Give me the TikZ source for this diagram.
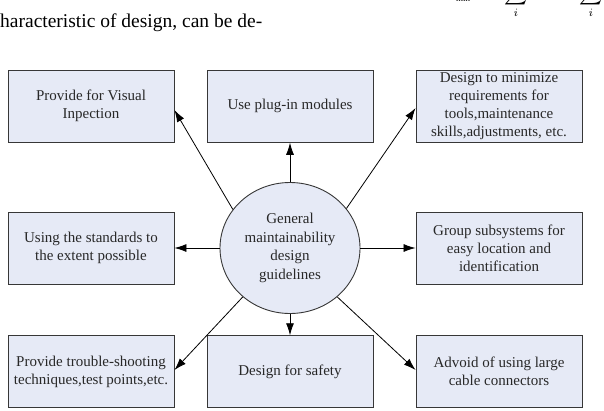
\documentclass[tikz,border=0pt]{standalone}
\usepackage{fontspec}
\setmainfont{Liberation Serif}
\usetikzlibrary{arrows.meta,shapes.geometric}
\definecolor{boxfill}{RGB}{230,234,246}
\definecolor{boxline}{RGB}{55,55,55}
\definecolor{txt}{RGB}{40,40,40}
\begin{document}
\begin{tikzpicture}[x=1pt, y=-1pt, >={Latex[length=12pt,width=8pt]},
    box/.style={draw=boxline, fill=boxfill, line width=0.9pt, minimum width=166pt, minimum height=72pt,
        inner sep=2pt, align=center, text=txt, font=\fontsize{15}{18}\selectfont},
    hub/.style={ellipse, draw=boxline, fill=boxfill, line width=0.9pt, minimum width=140pt, minimum height=131pt,
        inner sep=0pt, align=center, text=txt, font=\fontsize{15}{18.5}\selectfont},
    link/.style={->, line width=0.8pt}]
    \useasboundingbox (0,0) rectangle (604,410);
    % running text of the page above the figure
    \node[anchor=base west, inner sep=0pt, font=\fontsize{19.5}{20}\selectfont] (para) at (0,27) {haracteristic of design, can be de-};
    \node[inner sep=0pt, font=\fontsize{9}{9}\selectfont] (minsub) at (463,-1.5) {min};
    \node[anchor=south, inner sep=0pt] (sumA) at (516,18) {\scalebox{1.6}{$\displaystyle\sum_i$}};
    \node[anchor=south, inner sep=0pt] (sumB) at (591,18) {\scalebox{1.6}{$\displaystyle\sum_i$}};
    % centre
    \node[hub] (hub) at (290,248) {General\\maintainability\\design\\guidelines};
    % top row
    \node[box] (visual) at (91,106.3) {Provide for Visual\\Inpection};
    \node[box] (plugin) at (290,106.3) {Use plug-in modules};
    \node[box] (tools) at (499,106.3) {Design to minimize\\requirements for\\tools,maintenance\\skills,adjustments, etc.};
    % middle row
    \node[box] (stand) at (91,248) {Using the standards to\\the extent possible};
    \node[box] (group) at (499,248) {Group subsystems for\\easy location and\\identification};
    % bottom row
    \node[box] (trouble) at (91,371.7) {Provide trouble-shooting\\techniques,test points,etc.};
    \node[box] (safety) at (290,371.7) {Design for safety};
    \node[box] (cable) at (499,371.7) {Advoid of using large\\cable connectors};
    % arrows
    \draw[link] (hub.north) -- (plugin.south);
    \draw[link] (hub.west) -- (stand.east);
    \draw[link] (hub.east) -- (group.west);
    \draw[link] (hub.south) -- (safety.north);
    \draw[link] (hub.146) -- ([yshift=-3.7pt]visual.east);
    \draw[link] (hub.35) -- ([yshift=-1.7pt]tools.west);
    \draw[link] (hub.226) -- ([yshift=1.7pt]trouble.east);
    \draw[link] (hub.314) -- ([yshift=1.7pt]cable.west);
\end{tikzpicture}
\end{document}
